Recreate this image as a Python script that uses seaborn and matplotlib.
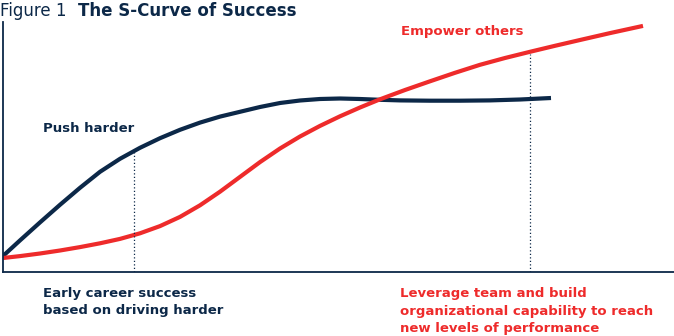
import matplotlib
matplotlib.use("Agg")
import matplotlib.pyplot as plt
import seaborn as sns
import pandas as pd

NAVY = "#0c2848"
RED = "#ee2b2b"

# Curves (x: 0..671 span, y: height above baseline)
push_x = [0, 17, 37, 57, 77, 97, 117, 137, 157, 177, 197, 217, 237, 257, 277, 297, 317, 337,
          357, 377, 397, 427, 457, 487, 517, 548]
push_y = [16, 31.6, 49.6, 67.2, 84.2, 100.2, 113.2, 124.2, 133.8, 142.2, 149.4, 155.4, 160.2,
          165, 169, 171.5, 173, 173.5, 173, 172.2, 171.6, 171.3, 171.3, 171.6, 172.5, 174]

emp_x = [0, 17, 37, 57, 77, 97, 117, 137, 157, 177, 197, 217, 237, 257, 277, 297, 317, 337,
         357, 377, 402, 427, 452, 477, 502, 527, 552, 577, 607, 640]
emp_y = [14, 15.9, 18.5, 21.5, 24.9, 28.7, 33.1, 38.7, 45.9, 55.1, 66.7, 80.3, 95.1, 109.9,
         123.5, 135.5, 146.1, 155.7, 164.5, 172.7, 182.0, 190.7, 199.2, 207.2, 214.0, 220.2,
         226.2, 232.0, 238.9, 246.1]

marker_x = [131, 527]
marker_top = [120, 218]

df = pd.concat([
    pd.DataFrame({"x": push_x, "y": push_y, "s": "Push harder"}),
    pd.DataFrame({"x": emp_x, "y": emp_y, "s": "Empower others"}),
])

sns.set_theme(style="white")
plt.rcParams["font.family"] = ["DejaVu Sans"]

fig = plt.figure(figsize=(6.74, 3.36), dpi=100)
ax = fig.add_axes([3 / 674, 64 / 336, 671 / 674, 250 / 336])

sns.lineplot(data=df, x="x", y="y", hue="s", palette={"Push harder": NAVY, "Empower others": RED},
             linewidth=3, legend=False, ax=ax, sort=False)
for ln in ax.lines:
    ln.set_solid_capstyle("butt")
    ln.set_solid_joinstyle("round")

for mx, mt in zip(marker_x, marker_top):
    ax.vlines(mx, 0, mt, colors=NAVY, linestyles=(0, (1, 1.8)), linewidth=0.9)

ax.set_xlim(0, 671)
ax.set_ylim(0, 250)
ax.set_xticks([])
ax.set_yticks([])
ax.set_xlabel("")
ax.set_ylabel("")
for side in ["top", "right"]:
    ax.spines[side].set_visible(False)
for side in ["left", "bottom"]:
    ax.spines[side].set_color(NAVY)
    ax.spines[side].set_linewidth(1.3)

ax.text(40, 144, "Push harder", color=NAVY, fontsize=9.5, fontweight="bold", va="center")
ax.text(398, 241, "Empower others", color=RED, fontsize=9.5, fontweight="bold", va="center")

fig.text(0 / 674, 1 - 11 / 336, "Figure 1", color=NAVY, fontsize=12, va="center", fontweight="normal")
fig.text(78 / 674, 1 - 11 / 336, "The S-Curve of Success", color=NAVY, fontsize=12, va="center", fontweight="bold")

fig.text(43 / 674, 1 - 302 / 336, "Early career success\nbased on driving harder", color=NAVY,
         fontsize=9.5, fontweight="bold", va="center", linespacing=1.42)
fig.text(400 / 674, 1 - 311 / 336, "Leverage team and build\norganizational capability to reach\nnew levels of performance",
         color=RED, fontsize=9.5, fontweight="bold", va="center", linespacing=1.42)

fig.savefig("out.png", dpi=100)
